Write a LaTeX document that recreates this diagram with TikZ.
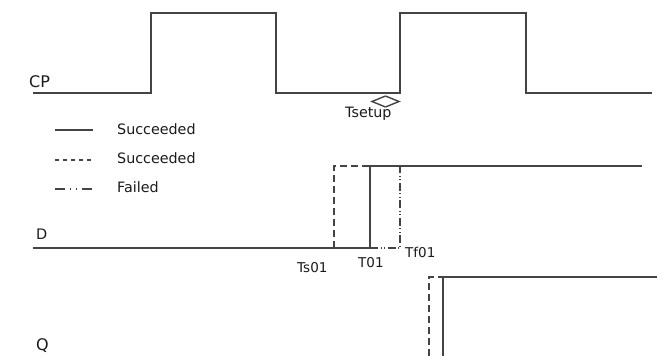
\documentclass[tikz,border=0pt]{standalone}
\usepackage{fontspec}
\setmainfont{DejaVu Sans}
\definecolor{wave}{HTML}{444444}
\definecolor{txt}{HTML}{1A1A1A}
\begin{document}
\begin{tikzpicture}[x=1pt,y=-1pt,
  wv/.style={draw=wave,line width=1.2pt},
  dsh/.style={wv,dash pattern=on 7pt off 4pt},
  dd/.style={wv,dash pattern=on 8pt off 2.5pt on 1pt off 2.5pt on 1pt off 2.5pt},
  lbl/.style={inner sep=0pt,anchor=base west,text=txt,font=\fontsize{13.5}{14}\selectfont},
  sig/.style={inner sep=0pt,anchor=base west,text=txt}]
\useasboundingbox (0,0) rectangle (669,356);
% CP
\node[sig,font=\fontsize{16}{18}\selectfont] (cp) at (29,87) {CP};
\draw[wv] (33,93) -- (151,93) -- (151,13) -- (276,13) -- (276,93) -- (400,93) -- (400,13) -- (526,13) -- (526,93) -- (652,93);
% Tsetup arrow
\draw[wv,line width=1.4pt,line join=miter] (385.5,96) -- (372,101.5) -- (385.5,107);
\draw[wv,line width=1.4pt,line join=miter] (385.5,96) -- (399,101.5) -- (385.5,107);
\node[sig,font=\fontsize{14.3}{16}\selectfont] (ts) at (345,117) {Tsetup};
% legend
\draw[wv] (55,130) -- (93,130);
\draw[wv,dash pattern=on 4pt off 4pt] (55,160) -- (93,160);
\draw[wv,dash pattern=on 10pt off 5pt on 1pt off 5pt on 1pt off 5pt] (55,189) -- (93,189);
\node[sig,font=\fontsize{14.3}{16}\selectfont] (l1) at (117,134) {Succeeded};
\node[sig,font=\fontsize{14.3}{16}\selectfont] (l2) at (117,163) {Succeeded};
\node[sig,font=\fontsize{14.3}{16}\selectfont] (l3) at (117,192) {Failed};
% D
\node[sig,font=\fontsize{14.5}{16}\selectfont] (d) at (36,239) {D};
\draw[wv] (33,248) -- (370,248) -- (370,166) -- (642,166);
\draw[dsh] (334,248) -- (334,166) -- (370,166);
\draw[dd] (370,248) -- (400,248) -- (400,166) -- (437,166);
\node[lbl] (ts01) at (297,272) {Ts01};
\node[lbl] (t01) at (358,267) {T01};
\node[lbl] (tf01) at (405,257) {Tf01};
% Q
\node[sig,font=\fontsize{16}{18}\selectfont] (q) at (36,350) {Q};
\draw[wv] (443,356) -- (443,277) -- (657,277);
\draw[dsh] (429,356) -- (429,277) -- (465,277);
\end{tikzpicture}
\end{document}
